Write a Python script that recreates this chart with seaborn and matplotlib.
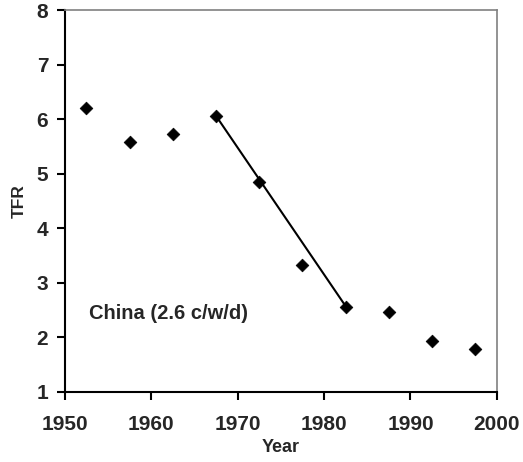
import matplotlib
matplotlib.use("Agg")
import matplotlib.pyplot as plt
import seaborn as sns
import pandas as pd

years = [1952.5, 1957.5, 1962.5, 1967.5, 1972.5, 1977.5, 1982.5, 1987.5, 1992.5, 1997.5]
tfr = [6.21, 5.58, 5.73, 6.06, 4.85, 3.32, 2.55, 2.47, 1.93, 1.79]
fit_years = [1967.5, 1982.5]
fit_tfr = [6.06, 2.57]
label_text = "China (2.6 c/w/d)"

sns.set_style("white")
plt.rcParams['font.family'] = ['Liberation Sans', 'DejaVu Sans']
plt.rcParams['font.weight'] = 'bold'

fig = plt.figure(figsize=(5.23, 4.62), dpi=100)
ax = fig.add_axes([0.124, 0.152, 0.826, 0.826])

df = pd.DataFrame({"Year": years, "TFR": tfr})
fit = pd.DataFrame({"Year": fit_years, "TFR": fit_tfr})
sns.lineplot(data=fit, x="Year", y="TFR", color="black", linewidth=1.5, ax=ax)
sns.scatterplot(data=df, x="Year", y="TFR", marker="D", s=42, color="black",
                edgecolor="black", linewidth=0.5, ax=ax, zorder=3)

ax.set_xlim(1950, 2000)
ax.set_ylim(1, 8)
ax.set_xticks([1950, 1960, 1970, 1980, 1990, 2000])
ax.set_yticks(range(1, 9))
ax.tick_params(axis='both', direction='out', length=5.5, width=1.5, color='black',
               labelsize=15, bottom=True, left=True)
ax.tick_params(axis='x', pad=11)
ax.tick_params(axis='y', pad=6.5)
for lab in ax.get_xticklabels() + ax.get_yticklabels():
    lab.set_fontweight('bold')
ax.set_xlabel("Year", fontsize=13, fontweight='bold', labelpad=4)
ax.set_ylabel("TFR", fontsize=12.5, fontweight='bold', labelpad=7)

for s in ['left', 'bottom']:
    ax.spines[s].set_color('black')
    ax.spines[s].set_linewidth(1.5)
for s in ['top', 'right']:
    ax.spines[s].set_color('#808080')
    ax.spines[s].set_linewidth(1.2)

ax.text(1952.8, 2.33, label_text, fontsize=14.5, fontweight='bold', va='baseline', ha='left')

fig.savefig("out.png", dpi=100)
